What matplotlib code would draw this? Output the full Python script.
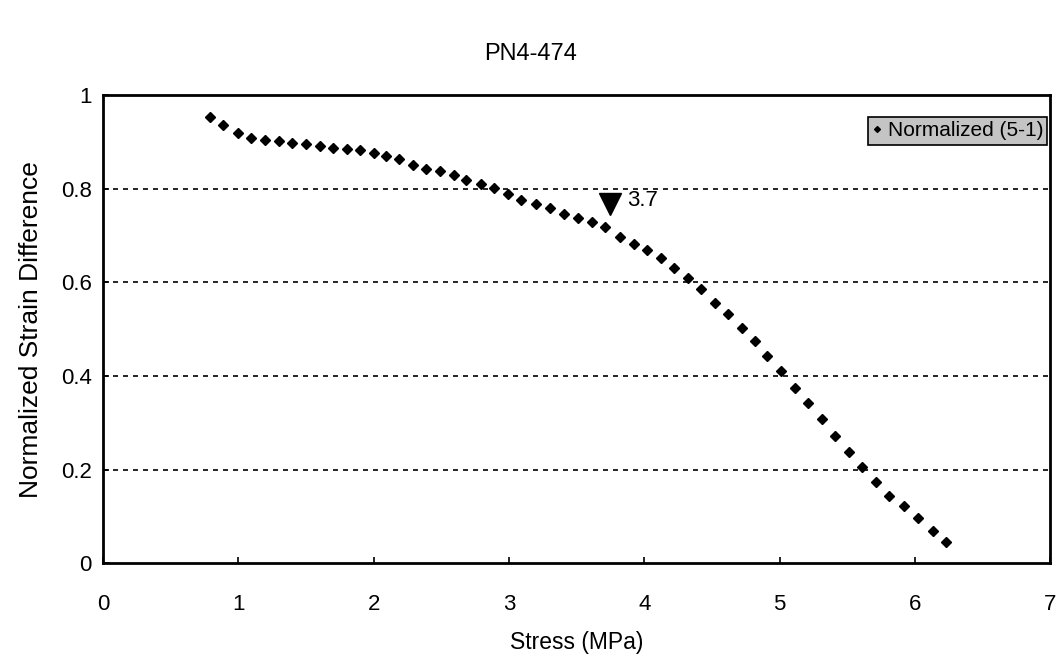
import numpy as np
import matplotlib.pyplot as plt

# values
stress = [0.79, 0.89, 1.00, 1.09, 1.20, 1.30, 1.40, 1.50, 1.60, 1.70,
          1.80, 1.90, 2.00, 2.09, 2.19, 2.29, 2.39, 2.49, 2.59, 2.68,
          2.79, 2.89, 2.99, 3.09, 3.20, 3.30, 3.41, 3.51, 3.61, 3.71,
          3.82, 3.92, 4.02, 4.12, 4.22, 4.32, 4.42, 4.52, 4.62, 4.72,
          4.82, 4.91, 5.01, 5.11, 5.21, 5.31, 5.41, 5.51, 5.61, 5.71,
          5.81, 5.92, 6.02, 6.13, 6.23]
strain = [0.953, 0.936, 0.919, 0.909, 0.905, 0.902, 0.897, 0.895, 0.891, 0.888,
          0.886, 0.882, 0.876, 0.870, 0.863, 0.850, 0.842, 0.837, 0.829, 0.819,
          0.811, 0.802, 0.789, 0.777, 0.767, 0.758, 0.747, 0.738, 0.730, 0.718,
          0.698, 0.682, 0.670, 0.652, 0.630, 0.610, 0.586, 0.557, 0.532, 0.503,
          0.474, 0.442, 0.411, 0.375, 0.343, 0.309, 0.272, 0.238, 0.206, 0.173,
          0.144, 0.122, 0.097, 0.069, 0.046]
marker_x = 3.75
marker_y = 0.767
marker_label = "3.7"

plt.rcParams['font.family'] = ['Liberation Sans', 'DejaVu Sans']

fig = plt.figure(figsize=(10.62, 6.61), dpi=100)
ax = fig.add_axes([0.097, 0.148, 0.892, 0.708])

ax.plot(stress, strain, linestyle='none', marker='D', markersize=5,
        color='black', label='Normalized (5-1)')

# yield marker
ax.plot([marker_x], [marker_y], marker='v', markersize=16, color='black',
        linestyle='none')
ax.text(marker_x + 0.12, marker_y + 0.008, marker_label, fontsize=16,
        va='center', ha='left')

ax.set_xlim(0, 7)
ax.set_ylim(0, 1)
ax.set_xticks(range(0, 8))
ax.set_yticks([0, 0.2, 0.4, 0.6, 0.8, 1])
ax.set_yticklabels(['0', '0.2', '0.4', '0.6', '0.8', '1'])
ax.tick_params(direction='in', length=4, labelsize=16, width=1.2)
ax.tick_params(axis='x', pad=22)
ax.tick_params(axis='y', pad=8)

for g in [0.2, 0.4, 0.6, 0.8]:
    ax.axhline(g, color='black', linestyle=(0, (3, 3)), linewidth=1.2)

for s in ax.spines.values():
    s.set_linewidth(2)

ax.set_xlabel('Stress (MPa)', fontsize=16.5, labelpad=12)
ax.set_ylabel('Normalized Strain Difference', fontsize=19, labelpad=13)
fig.suptitle('PN4-474', fontsize=17, y=0.935)

leg = ax.legend(loc='upper right', bbox_to_anchor=(0.997, 0.953), fontsize=15,
                frameon=True, fancybox=False, handlelength=0.5,
                handletextpad=0.25, borderpad=0.2, markerscale=0.6,
                borderaxespad=0.0)
leg.get_frame().set_facecolor('#c4c4c4')
leg.get_frame().set_edgecolor('black')
leg.get_frame().set_linewidth(1.2)
leg.get_frame().set_alpha(1)

fig.savefig('out.png', dpi=100, facecolor='white')
